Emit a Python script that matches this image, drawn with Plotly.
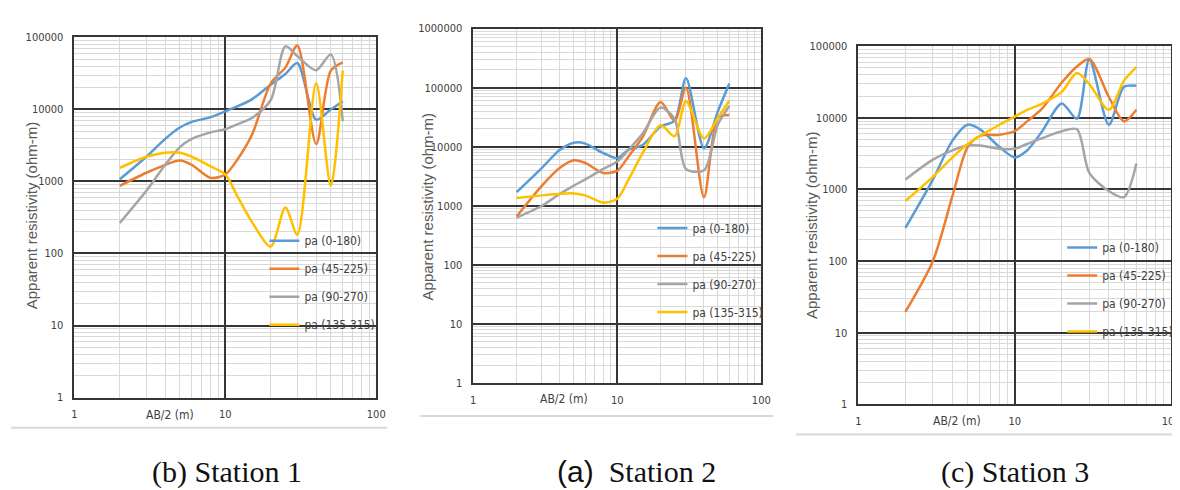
import plotly.graph_objects as go

# ---------------- data ----------------
AB2 = [2, 3, 4, 5, 6, 8, 10, 12, 15, 20, 25, 30, 40, 50, 60]
SERIES_NAMES = ["pa (0-180)", "pa (45-225)", "pa (90-270)", "pa (135-315)"]
SERIES_COLORS = ["#5B9BD5", "#ED7D31", "#A5A5A5", "#FFC000"]

# Station 1
S1_0_180 = [1070, 2200, 3900, 5600, 6700, 7800, 9400, 11000, 13800, 22000, 31000, 44000, 7200, 10000, 13000]
S1_45_225 = [870, 1320, 1700, 1950, 1700, 1120, 1250, 2000, 4400, 23000, 38000, 77000, 3300, 34500, 45000]
S1_90_270 = [265, 740, 1700, 3000, 3900, 4800, 5300, 6200, 7600, 13500, 75000, 55000, 35000, 58000, 6900]
S1_135_315 = [1540, 2200, 2500, 2500, 2200, 1620, 1250, 630, 275, 125, 435, 182, 23000, 870, 34500]

# Station 2
S2_0_180 = [1700, 4400, 8900, 11700, 11300, 7800, 6400, 8900, 10700, 22000, 27500, 145000, 9400, 40000, 118000]
S2_45_225 = [660, 2200, 4400, 5900, 5300, 3600, 3900, 6900, 14600, 57000, 27500, 100000, 1400, 31000, 34500]
S2_90_270 = [630, 1000, 1600, 2200, 2800, 4200, 5600, 8900, 16700, 46000, 29500, 4200, 4000, 24000, 49000]
S2_135_315 = [1350, 1500, 1600, 1620, 1500, 1130, 1320, 2800, 7800, 23000, 15000, 59000, 13800, 31000, 60000]

# Station 3
S3_0_180 = [290, 1370, 4800, 8000, 6900, 3900, 2800, 3500, 6500, 15800, 9700, 65000, 8000, 27000, 28000]
S3_45_225 = [19.5, 100, 810, 3900, 5600, 5800, 6500, 8900, 13500, 31000, 52000, 66000, 19500, 8900, 12900]
S3_90_270 = [1370, 2600, 3500, 4100, 4100, 3700, 3700, 4300, 5200, 6500, 6900, 1700, 950, 780, 2300]
S3_135_315 = [690, 1500, 2800, 4300, 5600, 8000, 10400, 12900, 15800, 23000, 42000, 29500, 12900, 33000, 51000]

STATIONS = [
    [S1_0_180, S1_45_225, S1_90_270, S1_135_315],
    [S2_0_180, S2_45_225, S2_90_270, S2_135_315],
    [S3_0_180, S3_45_225, S3_90_270, S3_135_315],
]
CAPTION_LETTERS = ["(b)", "(a)", "(c)"]
CAPTION_NAMES = ["Station 1", "Station 2", "Station 3"]

X_TICKVALS = [1, 10, 100]
X_TICKTEXT = ["1", "10", "100"]
Y_TICKVALS_5 = [1, 10, 100, 1000, 10000, 100000]
Y_TICKTEXT_5 = ["1", "10", "100", "1000", "10000", "100000"]
Y_TICKVALS_6 = [1, 10, 100, 1000, 10000, 100000, 1000000]
Y_TICKTEXT_6 = ["1", "10", "100", "1000", "10000", "100000", "1000000"]

X_TITLE = "AB/2 (m)"
Y_TITLE = "Apparent resistivity (ohm-m)"

# ---------------- layout geometry (pixels) ----------------
W, H = 1180, 490
# (left, right, top, bottom) of each plot area
PANELS = [(64, 369, 24, 394), (467, 758, 15, 379), (856, 1172, 33, 401)]
Y_DECADES = [5, 6, 5]
LEGEND_POS = [(256, 218), (648, 205), (1062, 225)]
YTITLE_POS = [(21, 207), (421, 198), (808, 217)]
XTITLE_POS = [(161, 412), (559, 396), (956, 418)]
CAPTION_POS = [(218, 470), (632, 470), (1014, 470)]
BASELINES = [(0, 380, 425), (413, 770, 413), (793, 1180, 432)]

NARROW = "Liberation Sans Narrow, DejaVu Sans Condensed, Roboto Condensed, Liberation Sans, sans-serif"
TICK_FONT = dict(family=NARROW, size=11, color="#404040")
MAJOR = "#363636"
MINOR = "#d9d9d9"

fig = go.Figure()

for i, data in enumerate(STATIONS):
    sfx = "" if i == 0 else str(i + 1)
    for name, color, ys in zip(SERIES_NAMES, SERIES_COLORS, data):
        fig.add_trace(go.Scatter(
            x=AB2, y=ys, name=name, mode="lines",
            line=dict(color=color, width=2.5, shape="spline", smoothing=0.8),
            xaxis="x" + sfx, yaxis="y" + sfx,
            legend="legend" + sfx, legendgroup=f"{i}-{name}",
            hoverinfo="x+y+name",
        ))

layout = dict(
    width=W, height=H,
    margin=dict(l=0, r=0, t=0, b=0),
    paper_bgcolor="white", plot_bgcolor="white",
    showlegend=True,
    annotations=[], shapes=[],
)

for i, (l, r, t, b) in enumerate(PANELS):
    sfx = "" if i == 0 else str(i + 1)
    dec = Y_DECADES[i]
    yv = Y_TICKVALS_6 if dec == 6 else Y_TICKVALS_5
    yt = Y_TICKTEXT_6 if dec == 6 else Y_TICKTEXT_5
    layout["xaxis" + sfx] = dict(
        type="log", range=[0, 2], domain=[l / W, r / W],
        anchor="y" + sfx,
        tickmode="array", tickvals=X_TICKVALS, ticktext=X_TICKTEXT,
        tickfont=TICK_FONT, ticks="", ticklabelstandoff=6,
        showgrid=True, gridcolor=MAJOR, gridwidth=1.5,
        minor=dict(dtick="D1", showgrid=True, gridcolor=MINOR, gridwidth=1, ticks=""),
        showline=True, linecolor=MAJOR, linewidth=1.5, mirror=True,
        zeroline=False, fixedrange=True,
    )
    layout["yaxis" + sfx] = dict(
        type="log", range=[0, dec], domain=[1 - b / H, 1 - t / H],
        anchor="x" + sfx,
        tickmode="array", tickvals=yv, ticktext=yt,
        tickfont=TICK_FONT, ticks="", ticklabelstandoff=7,
        showgrid=True, gridcolor=MAJOR, gridwidth=1.5,
        minor=dict(dtick="D1", showgrid=True, gridcolor=MINOR, gridwidth=1, ticks=""),
        showline=True, linecolor=MAJOR, linewidth=1.5, mirror=True,
        zeroline=False, fixedrange=True,
    )
    lx, ly = LEGEND_POS[i]
    layout["legend" + sfx] = dict(
        x=lx / W, y=1 - ly / H, xanchor="left", yanchor="top",
        xref="paper", yref="paper",
        bgcolor="rgba(0,0,0,0)", borderwidth=0,
        font=dict(family=NARROW, size=12, color="#404040"),
        tracegroupgap=9, itemwidth=30,
    )
    tx, ty = YTITLE_POS[i]
    layout["annotations"].append(dict(
        x=tx / W, y=1 - ty / H, xref="paper", yref="paper",
        xanchor="center", yanchor="middle",
        text=Y_TITLE, textangle=-90, showarrow=False,
        font=dict(family="Liberation Sans, sans-serif", size=15, color="#595959"),
    ))
    ax, ay = XTITLE_POS[i]
    layout["annotations"].append(dict(
        x=ax / W, y=1 - ay / H, xref="paper", yref="paper",
        xanchor="center", yanchor="middle",
        text=X_TITLE, showarrow=False,
        font=dict(family=NARROW, size=12, color="#404040"),
    ))
    cx, cy = CAPTION_POS[i]
    layout["annotations"].append(dict(
        x=cx / W, y=1 - cy / H, xref="paper", yref="paper",
        xanchor="center", yanchor="middle",
        text=(f"<span style=\"font-family:Liberation Sans, sans-serif\">{CAPTION_LETTERS[i]}</span>  {CAPTION_NAMES[i]}"
              if i == 1 else f"{CAPTION_LETTERS[i]} {CAPTION_NAMES[i]}"),
        showarrow=False,
        font=dict(family="Liberation Serif, DejaVu Serif, serif", size=30, color="#111111"),
    ))
    x0, x1, yb = BASELINES[i]
    layout["shapes"].append(dict(
        type="line", xref="paper", yref="paper",
        x0=x0 / W, x1=x1 / W, y0=1 - yb / H, y1=1 - yb / H,
        line=dict(color="#d9d9d9", width=2),
    ))

fig.update_layout(**layout)
fig.write_html("out.html")
